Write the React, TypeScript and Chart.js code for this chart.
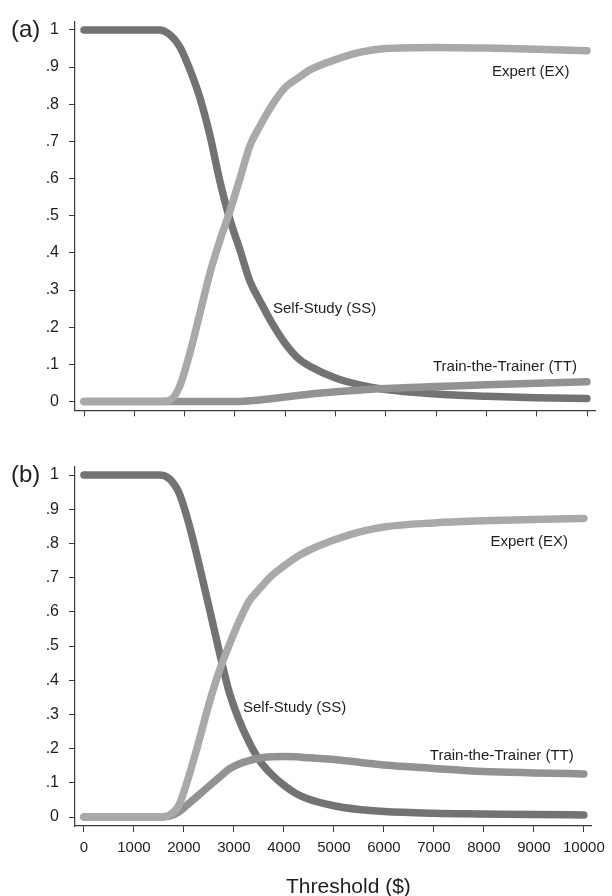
import React, { useEffect, useRef } from 'react';
import { Chart, registerables } from 'chart.js';
Chart.register(...registerables);

// ---- data ----
const thresholds = [0, 1000, 1500, 1700, 1900, 2100, 2300, 2500, 2700, 2900, 3100, 3300, 3500, 3750, 4000, 4250, 4500, 5000, 5500, 6000, 7000, 8000, 9000, 10000];

// Panel (a)
const ssA = [1, 1, 1, 0.988, 0.956, 0.895, 0.819, 0.718, 0.594, 0.49, 0.408, 0.323, 0.27, 0.208, 0.156, 0.117, 0.094, 0.063, 0.044, 0.032, 0.02, 0.014, 0.01, 0.008];
const exA = [0, 0, 0, 0.003, 0.04, 0.128, 0.235, 0.344, 0.433, 0.512, 0.6, 0.689, 0.742, 0.8, 0.845, 0.87, 0.893, 0.92, 0.94, 0.95, 0.953, 0.951, 0.948, 0.944];
const ttA = [0, 0, 0, 0, 0, 0, 0, 0, 0, 0, 0, 0.002, 0.004, 0.008, 0.012, 0.016, 0.02, 0.026, 0.031, 0.035, 0.04, 0.045, 0.049, 0.053];

// Panel (b)
const ssB = [1, 1, 1, 0.99, 0.948, 0.857, 0.74, 0.615, 0.488, 0.368, 0.285, 0.22, 0.168, 0.125, 0.093, 0.068, 0.052, 0.033, 0.022, 0.016, 0.011, 0.009, 0.007, 0.006];
const exB = [0, 0, 0, 0.005, 0.035, 0.12, 0.222, 0.33, 0.424, 0.501, 0.571, 0.63, 0.665, 0.705, 0.734, 0.76, 0.78, 0.81, 0.833, 0.848, 0.86, 0.866, 0.87, 0.873];
const ttB = [0, 0, 0, 0.002, 0.015, 0.04, 0.065, 0.09, 0.115, 0.14, 0.155, 0.165, 0.172, 0.176, 0.177, 0.176, 0.173, 0.168, 0.16, 0.152, 0.142, 0.133, 0.129, 0.126];

const xTickValues = [0, 1000, 2000, 3000, 4000, 5000, 6000, 7000, 8000, 9000, 10000];
const yTickValues = [0, 0.1, 0.2, 0.3, 0.4, 0.5, 0.6, 0.7, 0.8, 0.9, 1];
const yTickLabels = ['0', '.1', '.2', '.3', '.4', '.5', '.6', '.7', '.8', '.9', '1'];

const seriesNames = ['Expert (EX)', 'Train-the-Trainer (TT)', 'Self-Study (SS)'];
const xTitle = 'Threshold ($)';

// ---- styles / layout ----
const FONT = '"Liberation Sans", Arial, Helvetica, sans-serif';
const COLORS = { ex: '#a9a9ac', tt: '#929295', ss: '#737376' };
const AXIS = '#3a3a3a';
const TEXT = '#1e1e1e';

type Note = { text: string; x: number; y: number };

const notesA: Note[] = [
  { text: 'Expert (EX)', x: 8111, y: 0.888 },
  { text: 'Self-Study (SS)', x: 3757, y: 0.248 },
  { text: 'Train-the-Trainer (TT)', x: 6938, y: 0.093 },
];
const notesB: Note[] = [
  { text: 'Expert (EX)', x: 8131, y: 0.804 },
  { text: 'Self-Study (SS)', x: 3181, y: 0.319 },
  { text: 'Train-the-Trainer (TT)', x: 6918, y: 0.178 },
];

type PanelProps = {
  top: number;
  height: number;
  padTop: number;
  xAxisHeight: number;
  yMin: number;
  yMax: number;
  ex: number[];
  tt: number[];
  ss: number[];
  notes: Note[];
  tag: string;
  showXLabels: boolean;
};

function Panel(p: PanelProps) {
  const ref = useRef<HTMLCanvasElement | null>(null);
  useEffect(() => {
    if (!ref.current) return;
    const mk = (vals: number[]) => thresholds.map((x, i) => ({ x, y: vals[i] }));
    const line = (label: string, vals: number[], color: string, order: number) => ({
      label,
      data: mk(vals),
      borderColor: color,
      backgroundColor: color,
      borderWidth: 7.5,
      pointRadius: 0,
      borderCapStyle: 'round' as const,
      borderJoinStyle: 'round' as const,
      cubicInterpolationMode: 'monotone' as const,
      fill: false,
      order,
    });
    const notesPlugin = {
      id: 'notes',
      afterDatasetsDraw(chart: any) {
        const { ctx, scales, chartArea } = chart;
        const xs = scales.x, ys = scales.y;
        ctx.save();
        ctx.fillStyle = TEXT;
        ctx.textBaseline = 'middle';
        ctx.textAlign = 'left';
        ctx.font = `15px ${FONT}`;
        p.notes.forEach((n) => ctx.fillText(n.text, xs.getPixelForValue(n.x), ys.getPixelForValue(n.y)));
        ctx.font = `24px ${FONT}`;
        ctx.fillText(p.tag, 11, ys.getPixelForValue(1));
        if (p.showXLabels) {
          ctx.font = `21px ${FONT}`;
          ctx.textAlign = 'center';
          ctx.fillText(xTitle, (chartArea.left + chartArea.right) / 2 + 15, p.height - 9);
        }
        ctx.restore();
      },
    };
    const chart = new Chart(ref.current, {
      type: 'line',
      data: {
        datasets: [
          line(seriesNames[0], p.ex, COLORS.ex, 0),
          line(seriesNames[1], p.tt, COLORS.tt, 1),
          line(seriesNames[2], p.ss, COLORS.ss, 2),
        ],
      },
      options: {
        responsive: false,
        animation: false,
        layout: { padding: { left: 0, right: 17, top: p.padTop, bottom: 0 } },
        plugins: { legend: { display: false }, tooltip: { enabled: false }, title: { display: false } },
        scales: {
          x: {
            type: 'linear',
            min: -179,
            max: 10159,
            afterBuildTicks: (axis: any) => {
              axis.ticks = xTickValues.map((v) => ({ value: v }));
            },
            afterFit: (axis: any) => {
              axis.height = p.xAxisHeight;
            },
            ticks: {
              display: p.showXLabels,
              color: TEXT,
              font: { family: FONT, size: 15 },
              padding: 7,
              maxRotation: 0,
              autoSkip: false,
              callback: (v: any) => String(v),
            },
            grid: { drawOnChartArea: false, drawTicks: true, tickLength: 6, color: AXIS, lineWidth: 1 },
            border: { display: true, color: AXIS, width: 1.2 },
          },
          y: {
            type: 'linear',
            min: p.yMin,
            max: p.yMax,
            afterBuildTicks: (axis: any) => {
              axis.ticks = yTickValues.map((v) => ({ value: v }));
            },
            afterFit: (axis: any) => {
              axis.width = 75;
            },
            ticks: {
              color: TEXT,
              font: { family: FONT, size: 16 },
              padding: 10,
              autoSkip: false,
              callback: (v: any) => {
                const i = yTickValues.findIndex((t) => Math.abs(t - v) < 1e-9);
                return i >= 0 ? yTickLabels[i] : '';
              },
            },
            grid: { drawOnChartArea: false, drawTicks: true, tickLength: 6, color: AXIS, lineWidth: 1 },
            border: { display: true, color: AXIS, width: 1.2 },
          },
        },
      },
      plugins: [notesPlugin],
    } as any);
    return () => chart.destroy();
  }, []);
  return (
    <canvas
      ref={ref}
      width={612}
      height={p.height}
      style={{ position: 'absolute', left: 0, top: p.top, width: 612, height: p.height }}
    />
  );
}

export default function App() {
  return (
    <div style={{ position: 'absolute', left: 0, top: 0, width: 612, height: 896, background: '#fff', overflow: 'hidden' }}>
      <Panel
        top={0}
        height={430}
        padTop={22}
        xAxisHeight={16}
        yMin={-0.024}
        yMax={1.0213}
        ex={exA}
        tt={ttA}
        ss={ssA}
        notes={notesA}
        tag="(a)"
        showXLabels={false}
      />
      <Panel
        top={440}
        height={456}
        padTop={27}
        xAxisHeight={70}
        yMin={-0.0263}
        yMax={1.0234}
        ex={exB}
        tt={ttB}
        ss={ssB}
        notes={notesB}
        tag="(b)"
        showXLabels={true}
      />
    </div>
  );
}
